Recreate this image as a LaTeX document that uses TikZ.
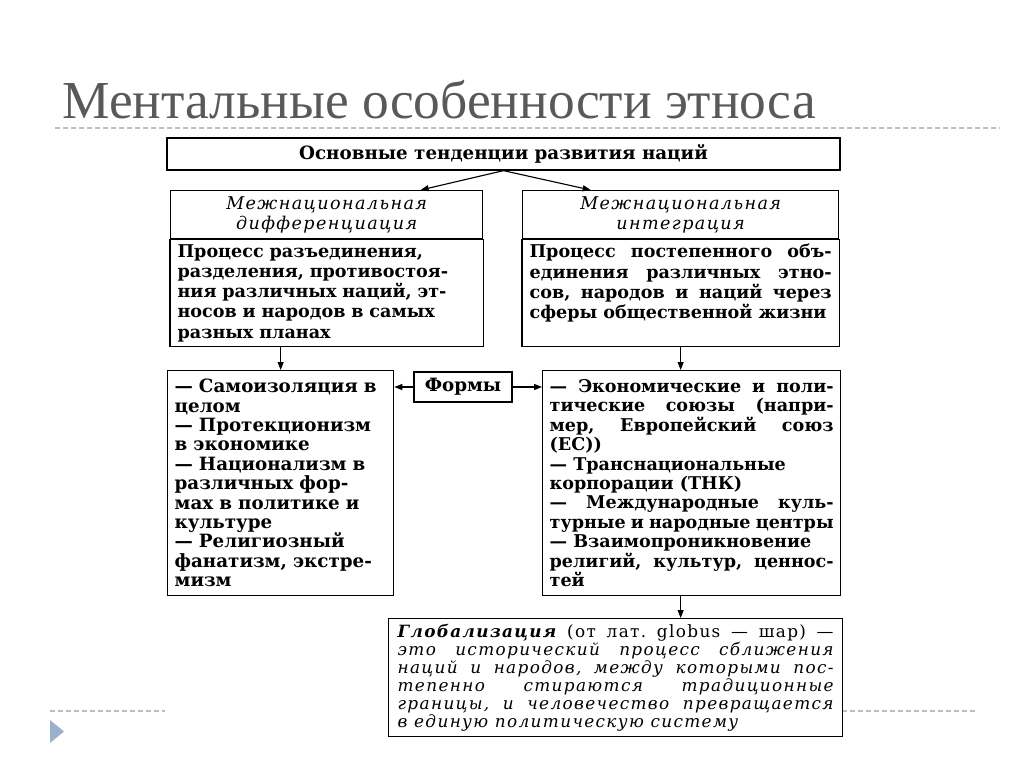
\documentclass[tikz,border=0pt]{standalone}
\usepackage{fontspec}
\setmainfont{DejaVu Serif}
\newfontfamily\titlefont{Liberation Serif}
\newfontfamily\spacedfont[LetterSpace=8]{DejaVu Serif}
\usetikzlibrary{arrows.meta,positioning}
\definecolor{ctitle}{HTML}{595959}
\definecolor{crule}{HTML}{BDBDBD}
\definecolor{cmark}{HTML}{9CB0CE}
\frenchspacing

\begin{document}
\begin{tikzpicture}[
    x=0.25mm, y=-0.25mm,
    frame/.style={draw=black, line width=0.9pt},
    tend/.style={frame, minimum width=168.25mm, minimum height=8mm, inner sep=0pt,
                 font=\fontsize{13}{15}\selectfont\bfseries},
    head/.style={frame, minimum height=12mm, inner sep=0pt, align=center,
                 font=\fontsize{12.5}{14.2}\spacedfont\itshape},
    body/.style={anchor=north, inner xsep=1.75mm, inner ysep=1.2mm,
                 font=\fontsize{12.5}{14.4}\selectfont\bfseries},
    lst/.style={frame, anchor=north west, minimum height=56.25mm, inner xsep=1.75mm, inner ysep=0pt,
                font=\fontsize{13}{13.8}\selectfont\bfseries},
    glob/.style={frame, anchor=north west, minimum height=29.5mm, inner xsep=2.25mm,
                 align=justify, text width=109mm, font=\fontsize{12}{12.8}\spacedfont\itshape},
    arr/.style={-{Triangle[length=2mm,width=1.5mm]}, line width=0.8pt},
    rule/.style={draw=crule, line width=0.35mm, dash pattern=on 1.2mm off 0.8mm}
]
\useasboundingbox (0,0) rectangle (1024,768);

% slide title and rules
\node[anchor=base west, inner sep=0pt, text=ctitle,
      font=\titlefont\fontsize{38}{40}\selectfont] (title) at (62,118) {Ментальные особенности этноса};
\draw[rule] (55,128) -- (1000,128);
\draw[rule] (50,711) -- (165,711);
\draw[rule] (842,711) -- (975,711);
\fill[cmark] (50,720) -- (64,731.5) -- (50,743) -- cycle;

\node[tend] (trend) at (503.5,154) {Основные тенденции развития наций};

% differentiation
\node[head, minimum width=78mm, anchor=north west] (dhead) at (170,190) {Межнациональная\\дифференциация};
\node[body, below=0pt of dhead, text width=74.5mm, align=left] (dbody)
    {Процесс разъединения,\\ разделения, противостоя-\\ ния различных наций, эт-\\ носов и народов в самых\\ разных планах};
\coordinate[below=26.75mm of dhead.south] (dbot);
\draw[frame] (dhead.south west) rectangle (dbot -| dhead.east);

% integration
\node[head, minimum width=79mm, anchor=north west] (ihead) at (522,190) {Межнациональная\\интеграция};
\node[body, below=0pt of ihead, text width=75.5mm, align=justify] (ibody)
    {\parfillskip=0pt Процесс постепенного объ-\linebreak единения различных этно-\linebreak сов, народов и наций через\linebreak сферы общественной жизни};
\coordinate[below=26.75mm of ihead.south] (ibot);
\draw[frame] (ihead.south west) rectangle (ibot -| ihead.east);

% forms
\node[lst, text width=53mm, align=left] (dlist) at (167,370)
    {— Самоизоляция в\\ целом\\ — Протекционизм\\ в экономике\\ — Национализм в\\ различных фор-\\ мах в политике и\\ культуре\\ — Религиозный\\ фанатизм, экстре-\\ мизм};
\node[frame, minimum width=24.5mm, minimum height=7.5mm, inner sep=0pt,
      font=\fontsize{13}{14}\selectfont\bfseries] (forms) at (463,387) {Формы};
\node[lst, text width=71mm, align=justify, font=\fontsize{12.5}{13.8}\selectfont\bfseries] (ilist) at (542,370)
    {— Экономические и поли-\linebreak тические союзы (напри-\linebreak мер, Европейский союз\linebreak (ЕС))\\ — Транснациональные\\ корпорации (ТНК)\\ — Международные куль-\linebreak турные и народные центры\\ — Взаимопроникновение\\ религий, культур, ценнос-\linebreak тей};

\node[glob] (globn) at (388,618)
    {{\bfseries Глобализация} {\upshape (от лат. globus — шар) —}\linebreak это исторический процесс сближения\linebreak наций и народов, между которыми пос-\linebreak тепенно стираются традиционные\linebreak границы, и человечество превращается\linebreak в единую политическую систему};

\draw[arr] (trend.south) -- ([xshift=23.5mm]dhead.north);
\draw[arr] (trend.south) -- ([xshift=-22.5mm]ihead.north);
\draw[arr] (dbot -| dlist.north) -- (dlist.north);
\draw[arr] (ibot) -- (ibot |- ilist.north);
\draw[arr] (forms.west) -- (forms.west -| dlist.east);
\draw[arr] (forms.east) -- (forms.east -| ilist.west);
\draw[arr] (ibot |- ilist.south) -- (ibot |- globn.north);
\end{tikzpicture}
\end{document}
